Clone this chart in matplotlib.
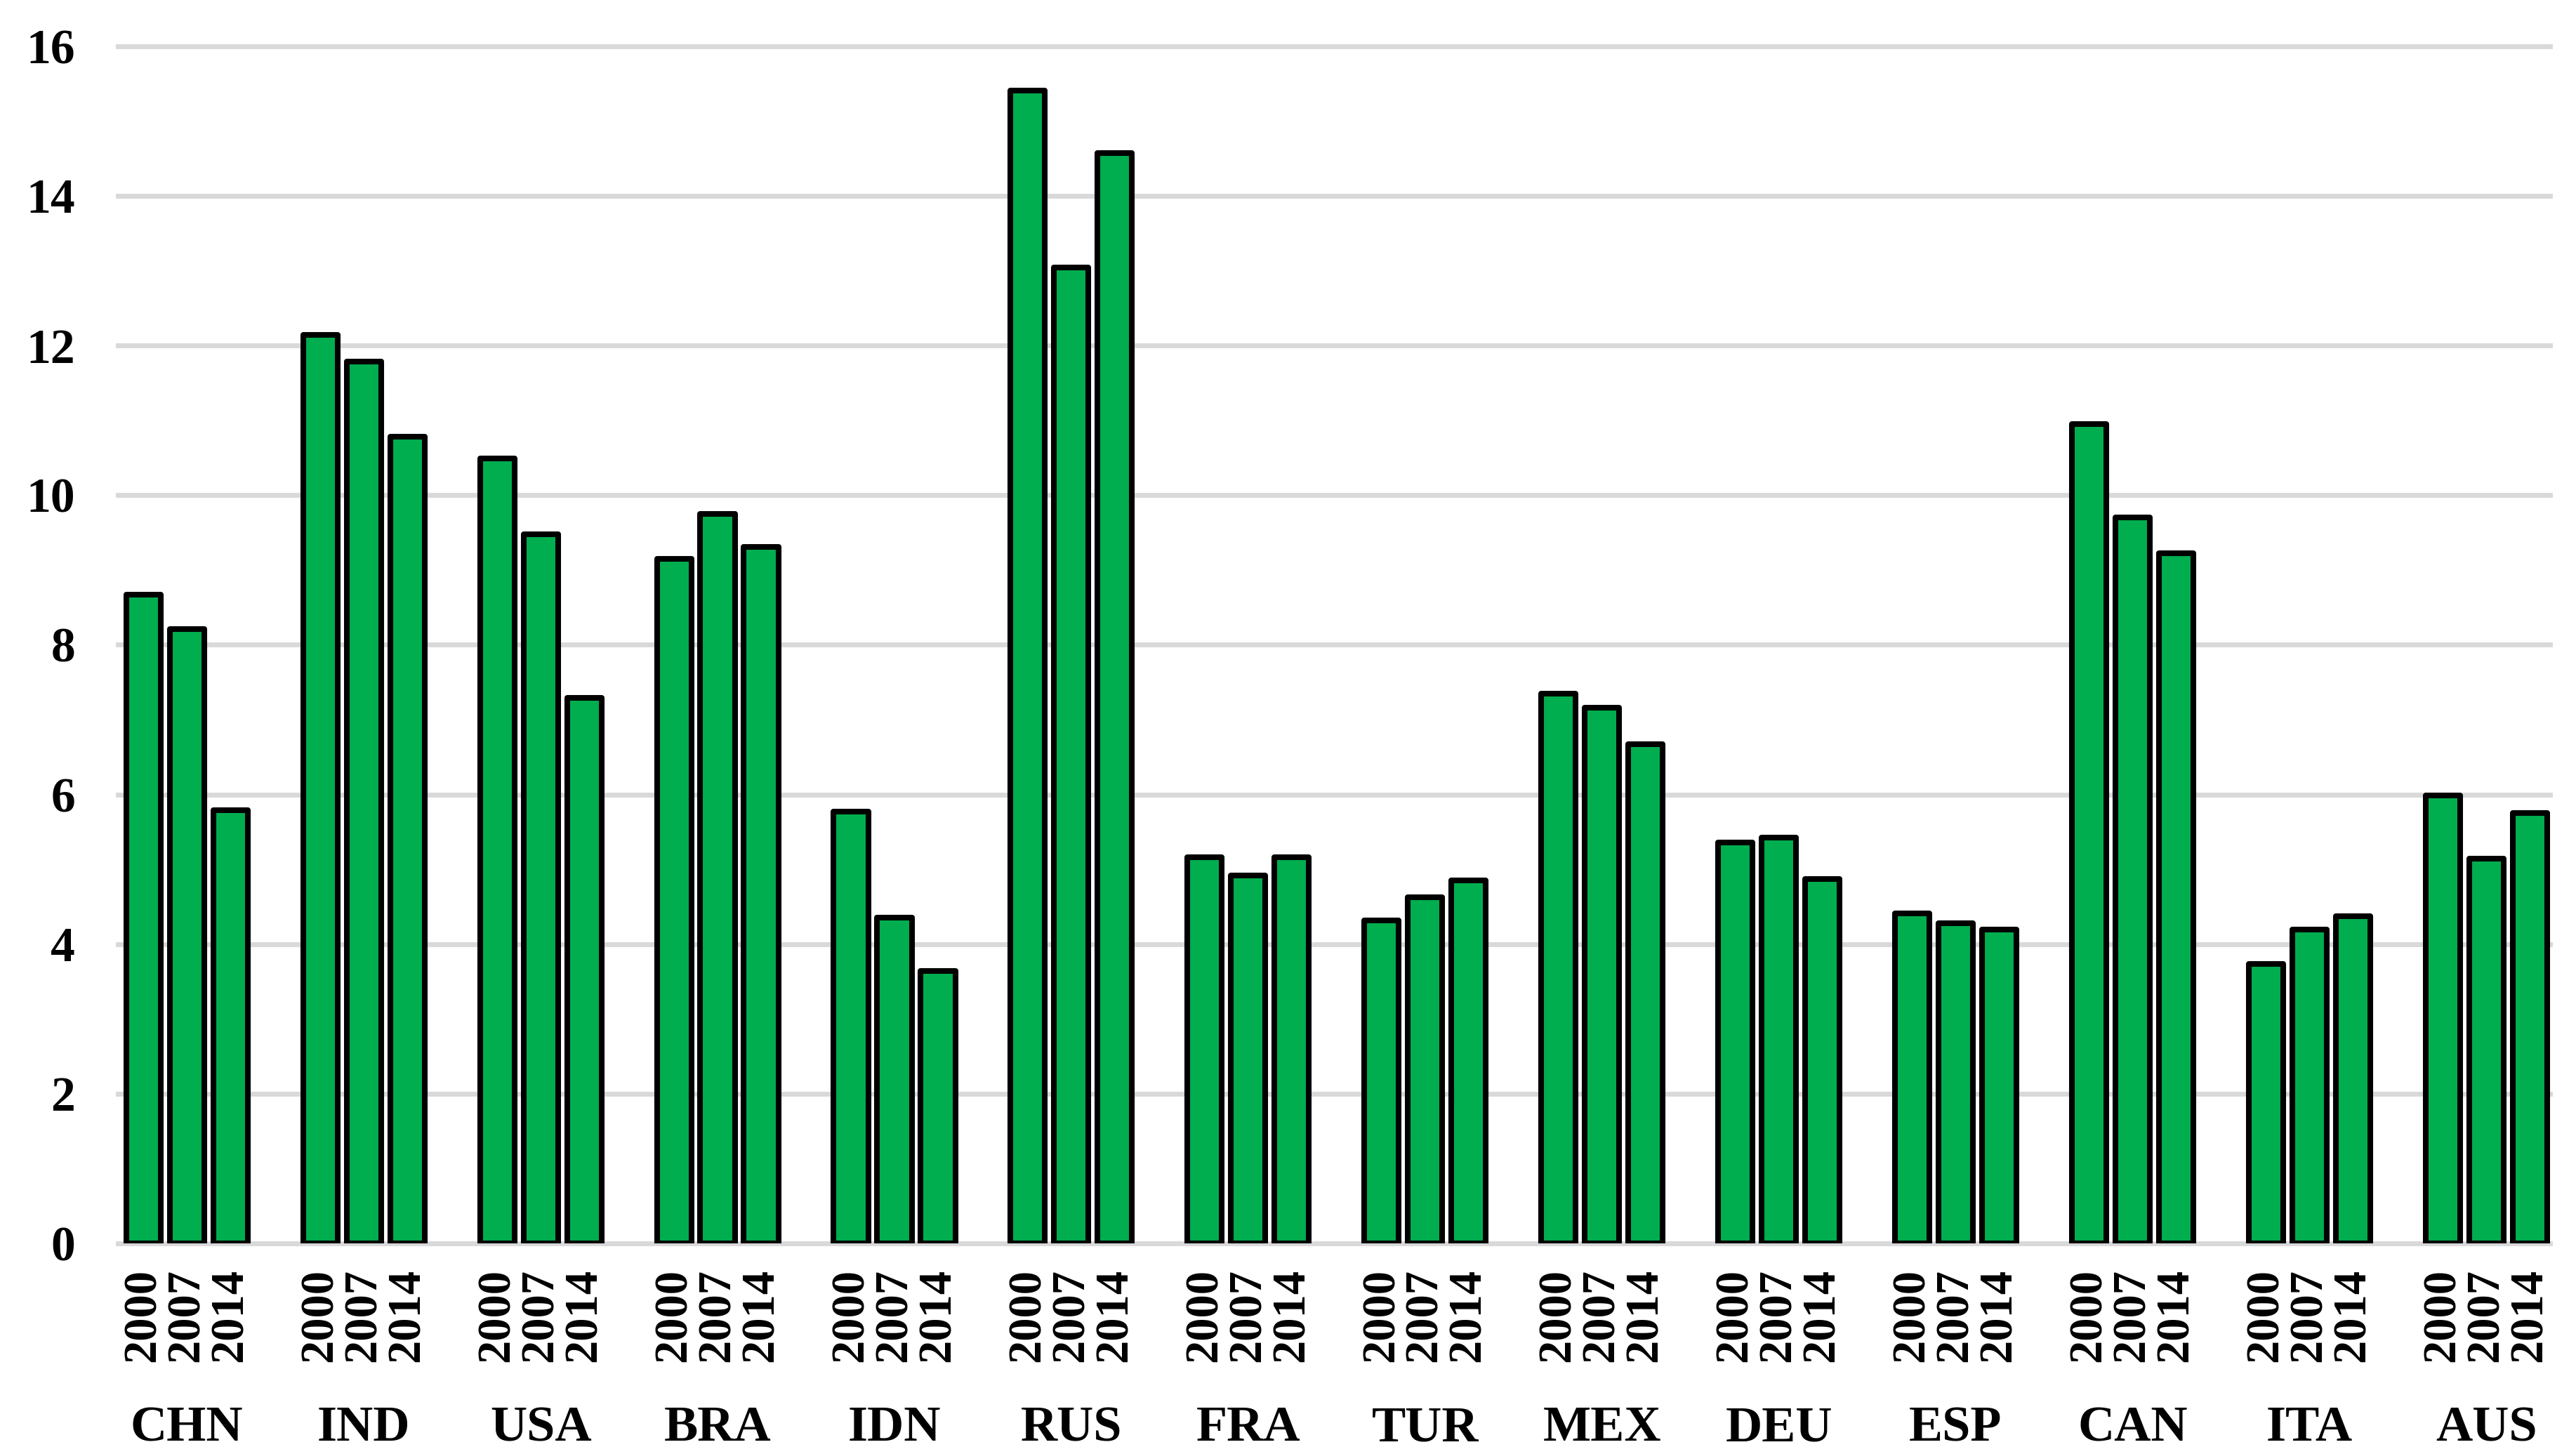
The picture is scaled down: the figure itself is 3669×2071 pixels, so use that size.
import numpy as np
import matplotlib
matplotlib.use('Agg')
import matplotlib.pyplot as plt

countries = ["CHN", "IND", "USA", "BRA", "IDN", "RUS", "FRA",
             "TUR", "MEX", "DEU", "ESP", "CAN", "ITA", "AUS"]
years = ["2000", "2007", "2014"]

vals_2000 = [8.67, 12.14, 10.49, 9.15, 5.77, 15.41, 5.16,
             4.32, 7.35, 5.36, 4.41, 10.95, 3.73, 5.99]
vals_2007 = [8.21, 11.79, 9.48, 9.75, 4.35, 13.04, 4.92,
             4.63, 7.16, 5.42, 4.28, 9.70, 4.19, 5.14]
vals_2014 = [5.79, 10.78, 7.29, 9.31, 3.64, 14.57, 5.16,
             4.85, 6.67, 4.87, 4.19, 9.22, 4.37, 5.75]

plt.rcParams['font.family'] = ['Liberation Serif', 'DejaVu Serif']
plt.rcParams['font.weight'] = 'bold'

fig = plt.figure(figsize=(36.69, 20.71), dpi=100)
ax = fig.add_axes([0.0458, 0.1449, 0.9441, 0.8233])

x = np.arange(len(countries))
pitch = 0.246
width = 0.195
series = [vals_2000, vals_2007, vals_2014]

tick_pos = []
tick_lab = []
for k, vals in enumerate(series):
    off = (k - 1) * pitch
    ax.bar(x + off, vals, width=width, color='#00AE4F', edgecolor='black',
           linewidth=5.8, zorder=3, joinstyle='round')
    tick_pos.extend(x + off)
    tick_lab.extend([years[k]] * len(countries))

ax.set_ylim(0, 16)
ax.set_xlim(-0.39, len(countries) - 1 + 0.36)
ax.set_yticks(np.arange(0, 17, 2))
ax.yaxis.grid(True, color='#D9D9D9', linewidth=5, zorder=0)
ax.set_axisbelow(True)
for s in ax.spines.values():
    s.set_visible(False)
for gl in ax.get_ygridlines():
    gl.set_clip_on(False)

ax.tick_params(axis='y', length=0, pad=44, labelsize=50)
ax.set_xticks(tick_pos)
ax.set_xticklabels(tick_lab, rotation=90, fontsize=48, va='top')
ax.tick_params(axis='x', length=0, pad=26)

# country names under each group of years
for i, c in enumerate(countries):
    ax.annotate(c, xy=(i, 0), xycoords=('data', 'axes fraction'),
                xytext=(0, -190), textcoords='offset points',
                ha='center', va='center', fontsize=52, fontweight='bold')

fig.savefig('out.png', dpi=100, facecolor='white')
